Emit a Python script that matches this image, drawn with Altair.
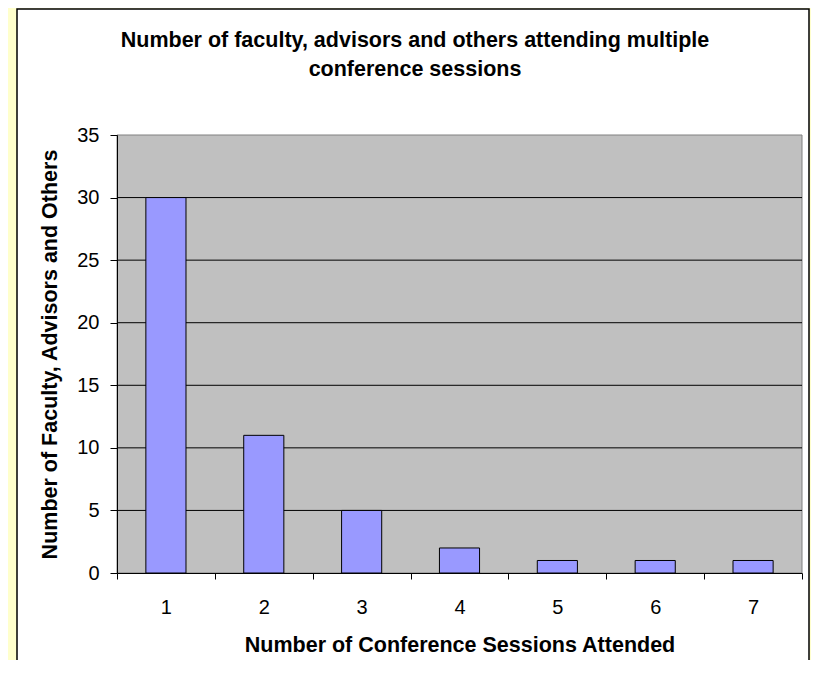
import altair as alt
import pandas as pd

# ---- data ----
sessions = ["1", "2", "3", "4", "5", "6", "7"]
counts = [30, 11, 5, 2, 1, 1, 1]
y_ticks = [0, 5, 10, 15, 20, 25, 30, 35]
grid_values = [5, 10, 15, 20, 25, 30]
title_lines = ["Number of faculty, advisors and others attending multiple",
               "conference sessions"]
x_title = "Number of Conference Sessions Attended"
y_title = "Number of Faculty, Advisors and Others"

W, H = 685, 438
FONT = "Liberation Sans"

df = pd.DataFrame({"sessions": sessions, "count": counts})
grid_df = pd.DataFrame({"v": grid_values})
one = alt.Data(values=[{"k": 0}])
title_data = alt.Data(values=[{"t": "\n".join(title_lines)}])

yscale = alt.Scale(domain=[0, 35], nice=False, zero=True)
y_axis = alt.Axis(
    title=y_title, values=y_ticks, grid=False, tickSize=7, labelPadding=11,
    labelFontSize=20, labelFont=FONT, labelColor="black",
    titleFontSize=21.5, titleFont=FONT, titleFontWeight="bold", titleColor="black",
    titlePadding=15, domainColor="black", tickColor="black", zindex=1,
)

# decorative white chart panel (Excel chart area) and gray plot area
panel = alt.Chart(one).mark_rect(fill="white", stroke="black", strokeWidth=1.5).encode(
    x=alt.value(-100), x2=alt.value(692), y=alt.value(-126), y2=alt.value(620)
)
plot_bg = alt.Chart(one).mark_rect(fill="#C0C0C0", stroke="#808080", strokeWidth=1).encode(
    x=alt.value(0), x2=alt.value(W), y=alt.value(0), y2=alt.value(H)
)

title_text = alt.Chart(title_data).mark_text(
    font=FONT, fontSize=21.5, fontWeight="bold", color="black", align="center",
    baseline="alphabetic", lineBreak="\n", lineHeight=29,
).encode(text=alt.Text("t:N"), x=alt.value(298), y=alt.value(-88))

grid = alt.Chart(grid_df).mark_rule(color="black", strokeWidth=1).encode(
    y=alt.Y("v:Q", scale=yscale, axis=y_axis)
)

bars = alt.Chart(df).mark_bar(
    color="#9999FF", stroke="black", strokeWidth=1, width=alt.RelativeBandSize(0.41)
).encode(
    x=alt.X(
        "sessions:N",
        sort=sessions,
        scale=alt.Scale(paddingInner=0, paddingOuter=0),
        axis=alt.Axis(
            title=x_title, labelAngle=0, tickBand="extent", tickSize=6,
            labelPadding=18, labelFontSize=20, labelFont=FONT, labelColor="black",
            titleFontSize=21.5, titleFont=FONT, titleFontWeight="bold", titleColor="black",
            titlePadding=17, domainColor="black", tickColor="black", zindex=1,
        ),
    ),
    y=alt.Y("count:Q", scale=yscale, axis=y_axis),
)

chart = alt.layer(panel, plot_bg, title_text, grid, bars).properties(
    width=W,
    height=H,
    autosize=alt.AutoSizeParams(type="none"),
    padding={"left": 109, "top": 127, "right": 9, "bottom": 87},
    background="#FFFFCC",
).configure_view(stroke=None)

chart.save("out.html", embed_options={"renderer": "svg", "actions": False})
